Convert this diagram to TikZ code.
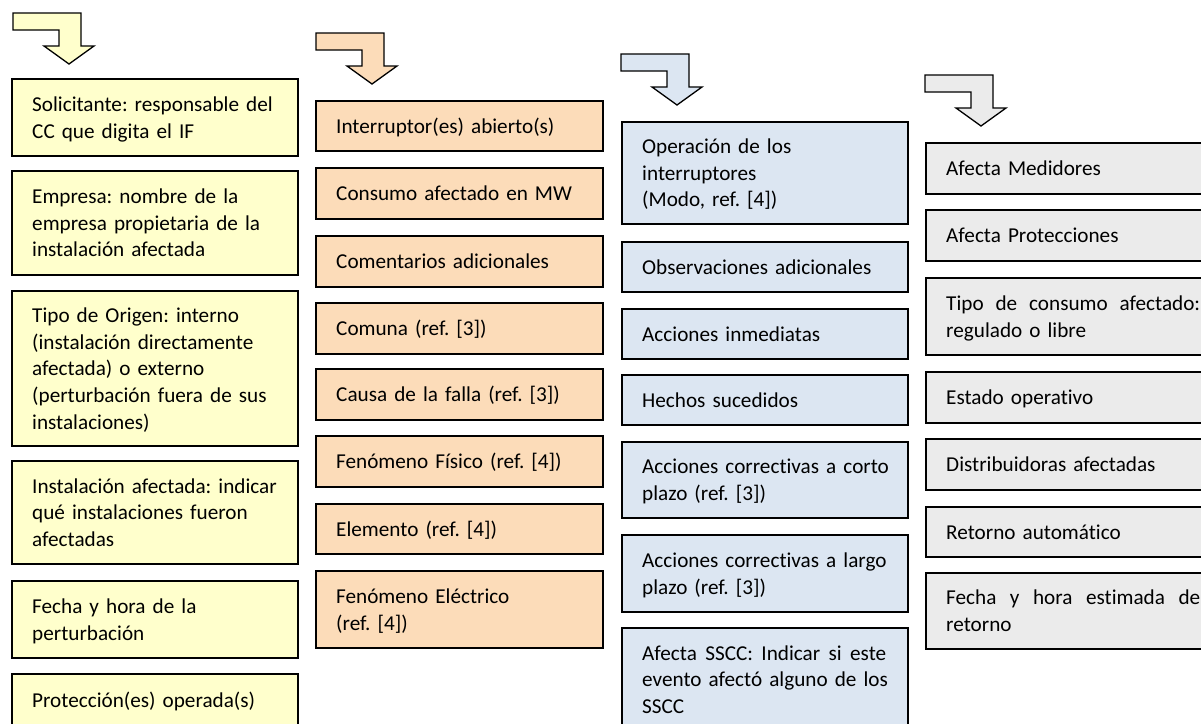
\documentclass[tikz,border=0pt]{standalone}
\usepackage{fontspec}
\setmainfont{Carlito}[Ligatures={NoCommon}]
\definecolor{yel}{HTML}{FFFFCC}
\definecolor{org}{HTML}{FCDCB9}
\definecolor{blu}{HTML}{DCE6F2}
\definecolor{gry}{HTML}{EBEBEB}
\tikzset{
  box/.style={draw=black, line width=1.8pt, inner sep=0pt, anchor=north west},
  txt/.style={anchor=west, inner sep=0pt, text width=300pt, align=left,
    font=\fontsize{21.2}{26.7}\selectfont\frenchspacing,
    execute at begin node=\strut, execute at end node=\strut},
  bentarrow/.pic={\path[pic actions] (0,0) -- (68,0) -- (68,33) -- (81,33) -- (56,51)
     -- (31,33) -- (46,33) -- (46,17) -- (0,17) -- cycle;},
  arrowsty/.style={draw=black, line width=1.3pt, line join=miter}
}
\newcommand\cbox[7]{%
  \node[box, fill=#6, minimum width=#4pt, minimum height=#5pt] (#1) at (#2,#3) {};
  \node[txt] (#1t) at ([xshift=21pt,yshift=-2pt]#1.west) {#7};}
\newcommand\jline[2]{\hbox to #1pt{#2}}
\begin{document}
\begin{tikzpicture}[x=1pt,y=-1pt]
\useasboundingbox (0,0) rectangle (1201,723);
\clip (0,0) rectangle (1201,723);
\fill[white] (0,0) rectangle (1201,723);
% arrows
\pic[arrowsty, fill=yel] at (13,13) {bentarrow};
\pic[arrowsty, fill=org] at (316,33) {bentarrow};
\pic[arrowsty, fill=blu] at (621,54) {bentarrow};
\pic[arrowsty, fill=gry] at (925,75) {bentarrow};
% yellow column
\cbox{y1}{11}{78}{286}{77}{yel}{Solicitante: responsable del\\CC que digita el IF}
\cbox{y2}{11}{170}{286}{104}{yel}{Empresa: nombre de la\\empresa propietaria de la\\instalación afectada}
\cbox{y3}{11}{290}{286}{155}{yel}{Tipo de Origen: interno\\(instalación directamente\\afectada) o externo\\(perturbación fuera de sus\\instalaciones)}
\cbox{y4}{11}{460}{286}{103}{yel}{Instalación afectada: indicar\\qué instalaciones fueron\\afectadas}
\cbox{y5}{11}{580}{286}{77}{yel}{Fecha y hora de la\\perturbación}
\cbox{y6}{11}{673}{286}{52}{yel}{Protección(es) operada(s)}
% orange column
\cbox{o1}{315}{100}{287}{50}{org}{Interruptor(es) abierto(s)}
\cbox{o2}{315}{167}{287}{51}{org}{Consumo afectado en MW}
\cbox{o3}{315}{235}{287}{51}{org}{Comentarios adicionales}
\cbox{o4}{315}{302}{287}{51}{org}{Comuna (ref. [3])}
\cbox{o5}{315}{368}{287}{51}{org}{Causa de la falla (ref. [3])}
\cbox{o6}{315}{435}{287}{51}{org}{Fenómeno Físico (ref. [4])}
\cbox{o7}{315}{503}{287}{50}{org}{Elemento (ref. [4])}
\cbox{o8}{315}{570}{287}{77}{org}{Fenómeno Eléctrico\\(ref. [4])}
% blue column
\cbox{b1}{621}{121}{286}{102}{blu}{Operación de los\\interruptores\\(Modo, ref. [4])}
\cbox{b2}{621}{241}{286}{50}{blu}{Observaciones adicionales}
\cbox{b3}{621}{308}{286}{50}{blu}{Acciones inmediatas}
\cbox{b4}{621}{374}{286}{50}{blu}{Hechos sucedidos}
\cbox{b5}{621}{441}{286}{76}{blu}{Acciones correctivas a corto\\plazo (ref. [3])}
\cbox{b6}{621}{534}{286}{77}{blu}{Acciones correctivas a largo\\plazo (ref. [3])}
\cbox{b7}{621}{627}{286}{103}{blu}{\jline{244}{Afecta\hfill SSCC:\hfill Indicar\hfill si\hfill este}\\evento afectó alguno de los\\SSCC}
% gray column
\cbox{g1}{925}{142}{297}{51}{gry}{Afecta Medidores}
\cbox{g2}{925}{209}{297}{51}{gry}{Afecta Protecciones}
\cbox{g3}{925}{277}{297}{77}{gry}{\jline{254}{Tipo\hfill de\hfill consumo\hfill afectado:}\\regulado o libre}
\cbox{g4}{925}{371}{297}{51}{gry}{Estado operativo}
\cbox{g5}{925}{438}{297}{51}{gry}{Distribuidoras afectadas}
\cbox{g6}{925}{506}{297}{50}{gry}{Retorno automático}
\cbox{g7}{925}{572}{297}{76}{gry}{\jline{254}{Fecha\hfill y\hfill hora\hfill estimada\hfill de}\\retorno}
\end{tikzpicture}
\end{document}
